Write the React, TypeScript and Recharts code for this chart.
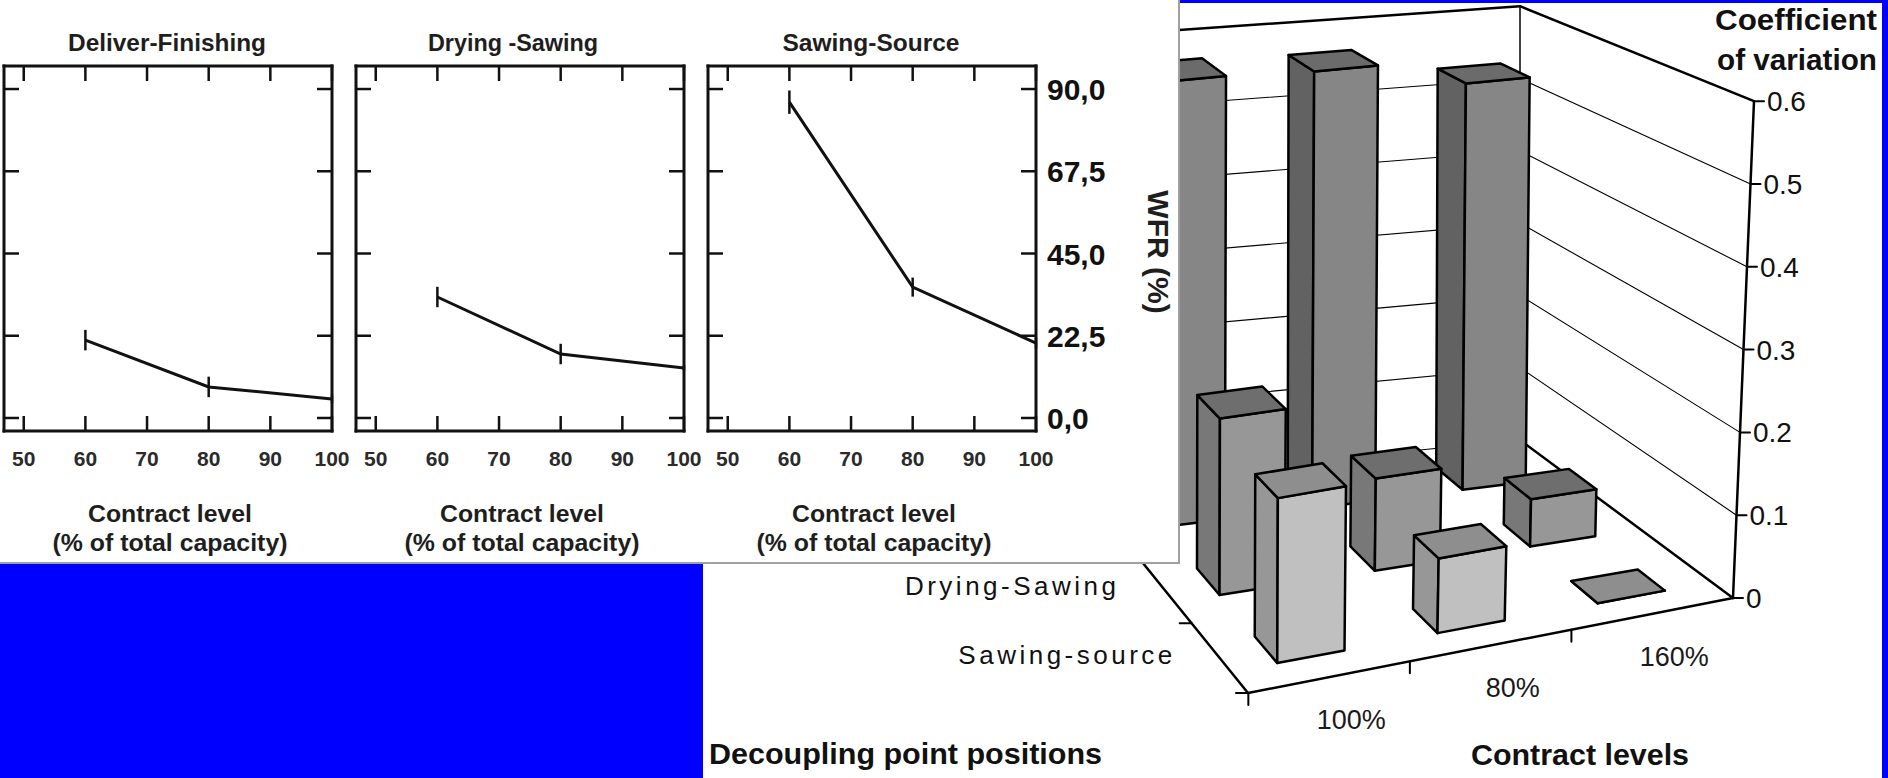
import React from "react";
import { LineChart, Line, XAxis, YAxis, ErrorBar, BarChart, Bar } from "recharts";

// ---- left panel: WFR (%) vs contract level ----
const contractPct = [60, 80, 100];
const pctTicks = [50, 60, 70, 80, 90, 100];
const wfrTicks = [0, 22.5, 45, 67.5, 90];
const wfrDeliverFinishing = [21.3, 8.5, 5.2];
const wfrDryingSawing = [33.1, 17.5, 13.7];
const wfrSawingSource = [86.4, 35.8, 20.5];
const errDeliverFinishing = [2.8, 2.8, 1.2];
const errDryingSawing = [2.8, 2.8, 0.8];
const errSawingSource = [3.2, 2.6, 1.5];

// ---- right panel: coefficient of variation (3D bars) ----
const contractLevels = ["100%", "80%", "160%"];
const decouplingPoints = ["Sawing-source", "Drying-Sawing", "Deliver-Finishing"]; // front -> back
const cvSawingSource = [0.197, 0.09, 0];
const cvDryingSawing = [0.22, 0.116, 0.06];
const cvDeliverFinishing = [0.58, 0.575, 0.54];
const cvTicks = [0, 0.1, 0.2, 0.3, 0.4, 0.5, 0.6];

const FONT = "'Liberation Sans', Arial, Helvetica, sans-serif";
const ink = "#111";

// left panel layout
const LP_W = 1180;
const LP_H = 564;
const PLOT_TOP = 66;
const PLOT_BOTTOM = 431;
const PLOT_W = 328;
const CH_ML = 20;
const CH_W = 470;

function BottomTick(p: any) {
  const { x, y, payload } = p;
  return (
    <g>
      <line x1={x} y1={y} x2={x} y2={y - 15} stroke={ink} strokeWidth={2.5} />
      <text x={x} y={y + 35} textAnchor="middle" fontSize={21} fontWeight="bold" fill="#2a2a2a" fontFamily={FONT}>
        {payload.value}
      </text>
    </g>
  );
}

function TopTick(p: any) {
  const { x, y } = p;
  return <line x1={x} y1={y} x2={x} y2={y + 15} stroke={ink} strokeWidth={2.5} />;
}

function LeftTick(p: any) {
  const { x, y } = p;
  return <line x1={x} y1={y} x2={x + 15} y2={y} stroke={ink} strokeWidth={2.5} />;
}

function RightTick(p: any) {
  const { x, y, payload, showLabel } = p;
  return (
    <g>
      <line x1={x} y1={y} x2={x - 15} y2={y} stroke={ink} strokeWidth={2.5} />
      {showLabel && (
        <text x={x + 11} y={y + 11} fontSize={30} fontWeight="bold" fill={ink} fontFamily={FONT}>
          {payload.value.toFixed(1).replace(".", ",")}
        </text>
      )}
    </g>
  );
}

function WfrChart({ values, errors, plotLeft, showRight }: any) {
  const data = contractPct.map((pct, i) => ({ pct, wfr: values[i], err: errors[i] }));
  const axisLine = { stroke: ink, strokeWidth: 3, strokeLinecap: "square" };
  return (
    <div style={{ position: "absolute", left: plotLeft - CH_ML, top: 0 }}>
      <LineChart
        width={CH_W}
        height={LP_H}
        data={data}
        margin={{ top: PLOT_TOP - 1, right: CH_W - CH_ML - PLOT_W - 1, bottom: LP_H - PLOT_BOTTOM - 1, left: CH_ML - 1 }}
      >
        <XAxis dataKey="pct" type="number" domain={[46.8, 100]} ticks={pctTicks} allowDataOverflow interval={0}
          height={1} tickLine={false} tickSize={0} tickMargin={0} axisLine={axisLine}
          tick={(p: any) => <BottomTick {...p} />} />
        <XAxis xAxisId="top" orientation="top" dataKey="pct" type="number" domain={[46.8, 100]} ticks={pctTicks}
          allowDataOverflow interval={0} height={1} tickLine={false} tickSize={0} tickMargin={0} axisLine={axisLine}
          tick={(p: any) => <TopTick {...p} />} />
        <YAxis type="number" domain={[-3.56, 96.3]} ticks={wfrTicks} allowDataOverflow interval={0} width={1}
          tickLine={false} tickSize={0} tickMargin={0} axisLine={axisLine}
          tick={(p: any) => <LeftTick {...p} />} />
        <YAxis yAxisId="right" orientation="right" type="number" domain={[-3.56, 96.3]} ticks={wfrTicks}
          allowDataOverflow interval={0} width={1} tickLine={false} tickSize={0} tickMargin={0} axisLine={axisLine}
          tick={(p: any) => <RightTick {...p} showLabel={showRight} />} />
        <Line dataKey="wfr" stroke={ink} strokeWidth={3} dot={false} isAnimationActive={false}>
          <ErrorBar dataKey="err" width={0} stroke={ink} strokeWidth={2.5} />
        </Line>
      </LineChart>
    </div>
  );
}

// ---- right panel projection ----
const RP_LEFT = 703;
const RP_TOP = 3;
const PW = 1179;
const PH = 775;
const cvMax = 0.6;
const FL = [545, 690];
const FR = [1030, 595];
const BR = [817, 437];
const BL = [376, 481];

function proj(c: number, d: number, v: number) {
  const a = (1 - c) * (1 - d), b = c * (1 - d), e = c * d, f = (1 - c) * d;
  const x = a * FL[0] + b * FR[0] + e * BR[0] + f * BL[0];
  const y = a * FL[1] + b * FR[1] + e * BR[1] + f * BL[1];
  const k = a * 850 + b * 828 + e * 723 + f * 745;
  return [x + 35 * c * (1 - d) * v, y - k * v];
}
const pts = (arr: number[][]) => arr.map(([a, b]) => `${a},${b}`).join(" ");

const rowFills = [
  { face: "#c0c0c0", side: "#979797", top: "#8e8e8e" },
  { face: "#979797", side: "#787878", top: "#6e6e6e" },
  { face: "#868686", side: "#626262", top: "#6b6b6b" },
];

function Prism(p: any) {
  const { x, width, height, row } = p;
  if (x == null || width == null) return null;
  const c0 = x / PW;
  const c1 = (x + width) / PW;
  const v = (Math.max(0, height || 0) / PH) * cvMax;
  const dc = (row + 0.5) / 3;
  const d0 = dc - 0.065;
  const d1 = dc + 0.065;
  const fill = rowFills[row];
  const st = { stroke: "#000", strokeWidth: 2.5, strokeLinejoin: "round" as const };
  return (
    <g>
      <polygon points={pts([proj(c0, d0, 0), proj(c0, d1, 0), proj(c0, d1, v), proj(c0, d0, v)])} fill={fill.side} {...st} />
      <polygon points={pts([proj(c0, d0, 0), proj(c1, d0, 0), proj(c1, d0, v), proj(c0, d0, v)])} fill={fill.face} {...st} />
      <polygon points={pts([proj(c0, d0, v), proj(c1, d0, v), proj(c1, d1, v), proj(c0, d1, v)])} fill={fill.top} {...st} />
    </g>
  );
}

function seg(a: number[], b: number[], w: number, key?: string) {
  return <line key={key} x1={a[0]} y1={a[1]} x2={b[0]} y2={b[1]} stroke="#000" strokeWidth={w} strokeLinecap="round" />;
}

function Floor() {
  return (
    <g>
      {seg(proj(0, 0, 0), proj(1, 0, 0), 2.5)}
      {seg(proj(0, 0, 0), proj(0, 1, 0), 2.5)}
      {seg(proj(1, 1, 0), proj(1, 1, cvMax), 1.5)}
      {seg(proj(1, 0, 0), proj(1, 0, cvMax), 2.5)}
      {decouplingPoints.map((name, j) => {
        const [tx, ty] = proj(0, j / 3, 0);
        const [lx, ly] = proj(0, (j + 0.5) / 3, 0);
        // labels that fall under the overlapping left panel are not visible in the slide
        const hidden = RP_TOP + ly < LP_H + 10;
        return (
          <g key={name}>
            {seg([tx, ty], [tx - 12, ty], 2)}
            {!hidden && (
              <text x={lx - 44} y={ly + 6} textAnchor="end" fontSize={26} letterSpacing={3.5} fill="#111" fontFamily={FONT}>
                {name}
              </text>
            )}
          </g>
        );
      })}
    </g>
  );
}

function CvTick(p: any) {
  const v = p.payload.value;
  const front = proj(1, 0, v);
  const corner = proj(1, 1, v);
  const back = proj(0, 1, v);
  const edge = v >= cvMax || v === 0;
  return (
    <g>
      {v === 0 && <Floor />}
      {seg(front, corner, edge ? 2.5 : 1.1)}
      {seg(corner, back, v >= cvMax ? 2.5 : 1.1)}
      {seg(front, [front[0] + 10, front[1]], 2)}
      <text x={front[0] + 13} y={front[1] + 10} fontSize={28} fill="#111" fontFamily={FONT}>
        {v === 0 ? "0" : v.toFixed(1)}
      </text>
    </g>
  );
}

function LevelTick(p: any) {
  const { x, payload } = p;
  const c = x / PW;
  const [bx, by] = proj(c - 1 / 6, 0, 0);
  const [lx, ly] = proj(c, 0, 0);
  return (
    <g>
      {seg([bx, by], [bx, by + 12], 2)}
      <text x={lx + 22} y={ly + 52} textAnchor="middle" fontSize={27} fill="#1a1a1a" fontFamily={FONT}>
        {payload.value}
      </text>
    </g>
  );
}

export default function App() {
  const cvData = contractLevels.map((level, i) => ({
    level,
    front: cvSawingSource[i],
    middle: cvDryingSawing[i],
    back: cvDeliverFinishing[i],
  }));
  const panels = [
    { title: "Deliver-Finishing", values: wfrDeliverFinishing, errors: errDeliverFinishing, left: 4, tw: 198, tc: 167 },
    { title: "Drying -Sawing", values: wfrDryingSawing, errors: errDryingSawing, left: 356, tw: 170, tc: 513 },
    { title: "Sawing-Source", values: wfrSawingSource, errors: errSawingSource, left: 708, tw: 177, tc: 871 },
  ];
  const zero = { top: 0, right: 0, bottom: 0, left: 0 };
  return (
    <div style={{ position: "absolute", left: 0, top: 0, width: 1888, height: 778, background: "#0000ff", overflow: "hidden", fontFamily: FONT }}>
      {/* right panel: 3D bars */}
      <div style={{ position: "absolute", left: RP_LEFT, top: RP_TOP, width: PW, height: PH, background: "#fff" }}>
        <div style={{ position: "absolute", left: 0, top: 0 }}>
          {/* walls, floor and axes (drawn through the axis ticks) */}
          <BarChart width={PW} height={PH} data={cvData} margin={zero}>
            <XAxis dataKey="level" interval={0} height={1} axisLine={false} tickLine={false} tickSize={0} tickMargin={0}
              tick={(p: any) => <LevelTick {...p} />} />
            <YAxis type="number" domain={[0, cvMax]} ticks={cvTicks} interval={0} width={1} axisLine={false}
              allowDataOverflow tickLine={false} tickSize={0} tickMargin={0} tick={(p: any) => <CvTick {...p} />} />
            <Bar dataKey="back" isAnimationActive={false} shape={() => <g />} />
          </BarChart>
        </div>
        <div style={{ position: "absolute", left: 0, top: 0 }}>
          <BarChart width={PW} height={PH} data={cvData} margin={zero} barCategoryGap="29%">
            <XAxis xAxisId="r0" dataKey="level" hide />
            <XAxis xAxisId="r1" dataKey="level" hide />
            <XAxis xAxisId="r2" dataKey="level" hide />
            <YAxis type="number" domain={[0, cvMax]} allowDataOverflow hide />
            <Bar xAxisId="r2" dataKey="back" isAnimationActive={false} shape={(p: any) => <Prism {...p} row={2} />} />
            <Bar xAxisId="r1" dataKey="middle" isAnimationActive={false} shape={(p: any) => <Prism {...p} row={1} />} />
            <Bar xAxisId="r0" dataKey="front" isAnimationActive={false} shape={(p: any) => <Prism {...p} row={0} />} />
          </BarChart>
        </div>
      </div>

      {/* right panel titles */}
      <svg width={1888} height={778} style={{ position: "absolute", left: 0, top: 0, pointerEvents: "none" }}>
        <g fontFamily={FONT} fontWeight="bold" fill="#111">
          <text x={1877} y={30} textAnchor="end" fontSize={29} textLength={162} lengthAdjust="spacingAndGlyphs">Coefficient</text>
          <text x={1877} y={70} textAnchor="end" fontSize={29} textLength={160} lengthAdjust="spacingAndGlyphs">of variation</text>
          <text x={1471} y={765} fontSize={29} textLength={218} lengthAdjust="spacingAndGlyphs">Contract levels</text>
          <text x={709} y={764} fontSize={29} textLength={393} lengthAdjust="spacingAndGlyphs">Decoupling point positions</text>
        </g>
      </svg>

      {/* left panel: WFR line charts */}
      <div style={{ position: "absolute", left: 0, top: 0, width: LP_W, height: LP_H, boxSizing: "border-box", background: "#fff",
        borderRight: "2px solid #a0a0a0", borderBottom: "2px solid #a0a0a0", overflow: "hidden" }}>
        {panels.map((pn) => (
          <WfrChart key={pn.title} values={pn.values} errors={pn.errors} plotLeft={pn.left} showRight={pn.left === 708} />
        ))}
        <svg width={LP_W} height={LP_H} style={{ position: "absolute", left: 0, top: 0, pointerEvents: "none" }}>
          <g fontFamily={FONT} fontWeight="bold" fill="#1e1e1e">
            {panels.map((pn) => (
              <g key={pn.title}>
                <text x={pn.tc} y={51} textAnchor="middle" fontSize={24} textLength={pn.tw} lengthAdjust="spacingAndGlyphs">
                  {pn.title}
                </text>
                <text x={pn.left + PLOT_W / 2 + 2} y={522} textAnchor="middle" fontSize={24} textLength={164}
                  lengthAdjust="spacingAndGlyphs">Contract level</text>
                <text x={pn.left + PLOT_W / 2 + 2} y={551} textAnchor="middle" fontSize={24} textLength={235}
                  lengthAdjust="spacingAndGlyphs">(% of total capacity)</text>
              </g>
            ))}
            <text transform="translate(1158,252) rotate(90)" textAnchor="middle" dominantBaseline="central" fontSize={30}>
              WFR (%)
            </text>
          </g>
        </svg>
      </div>
    </div>
  );
}
